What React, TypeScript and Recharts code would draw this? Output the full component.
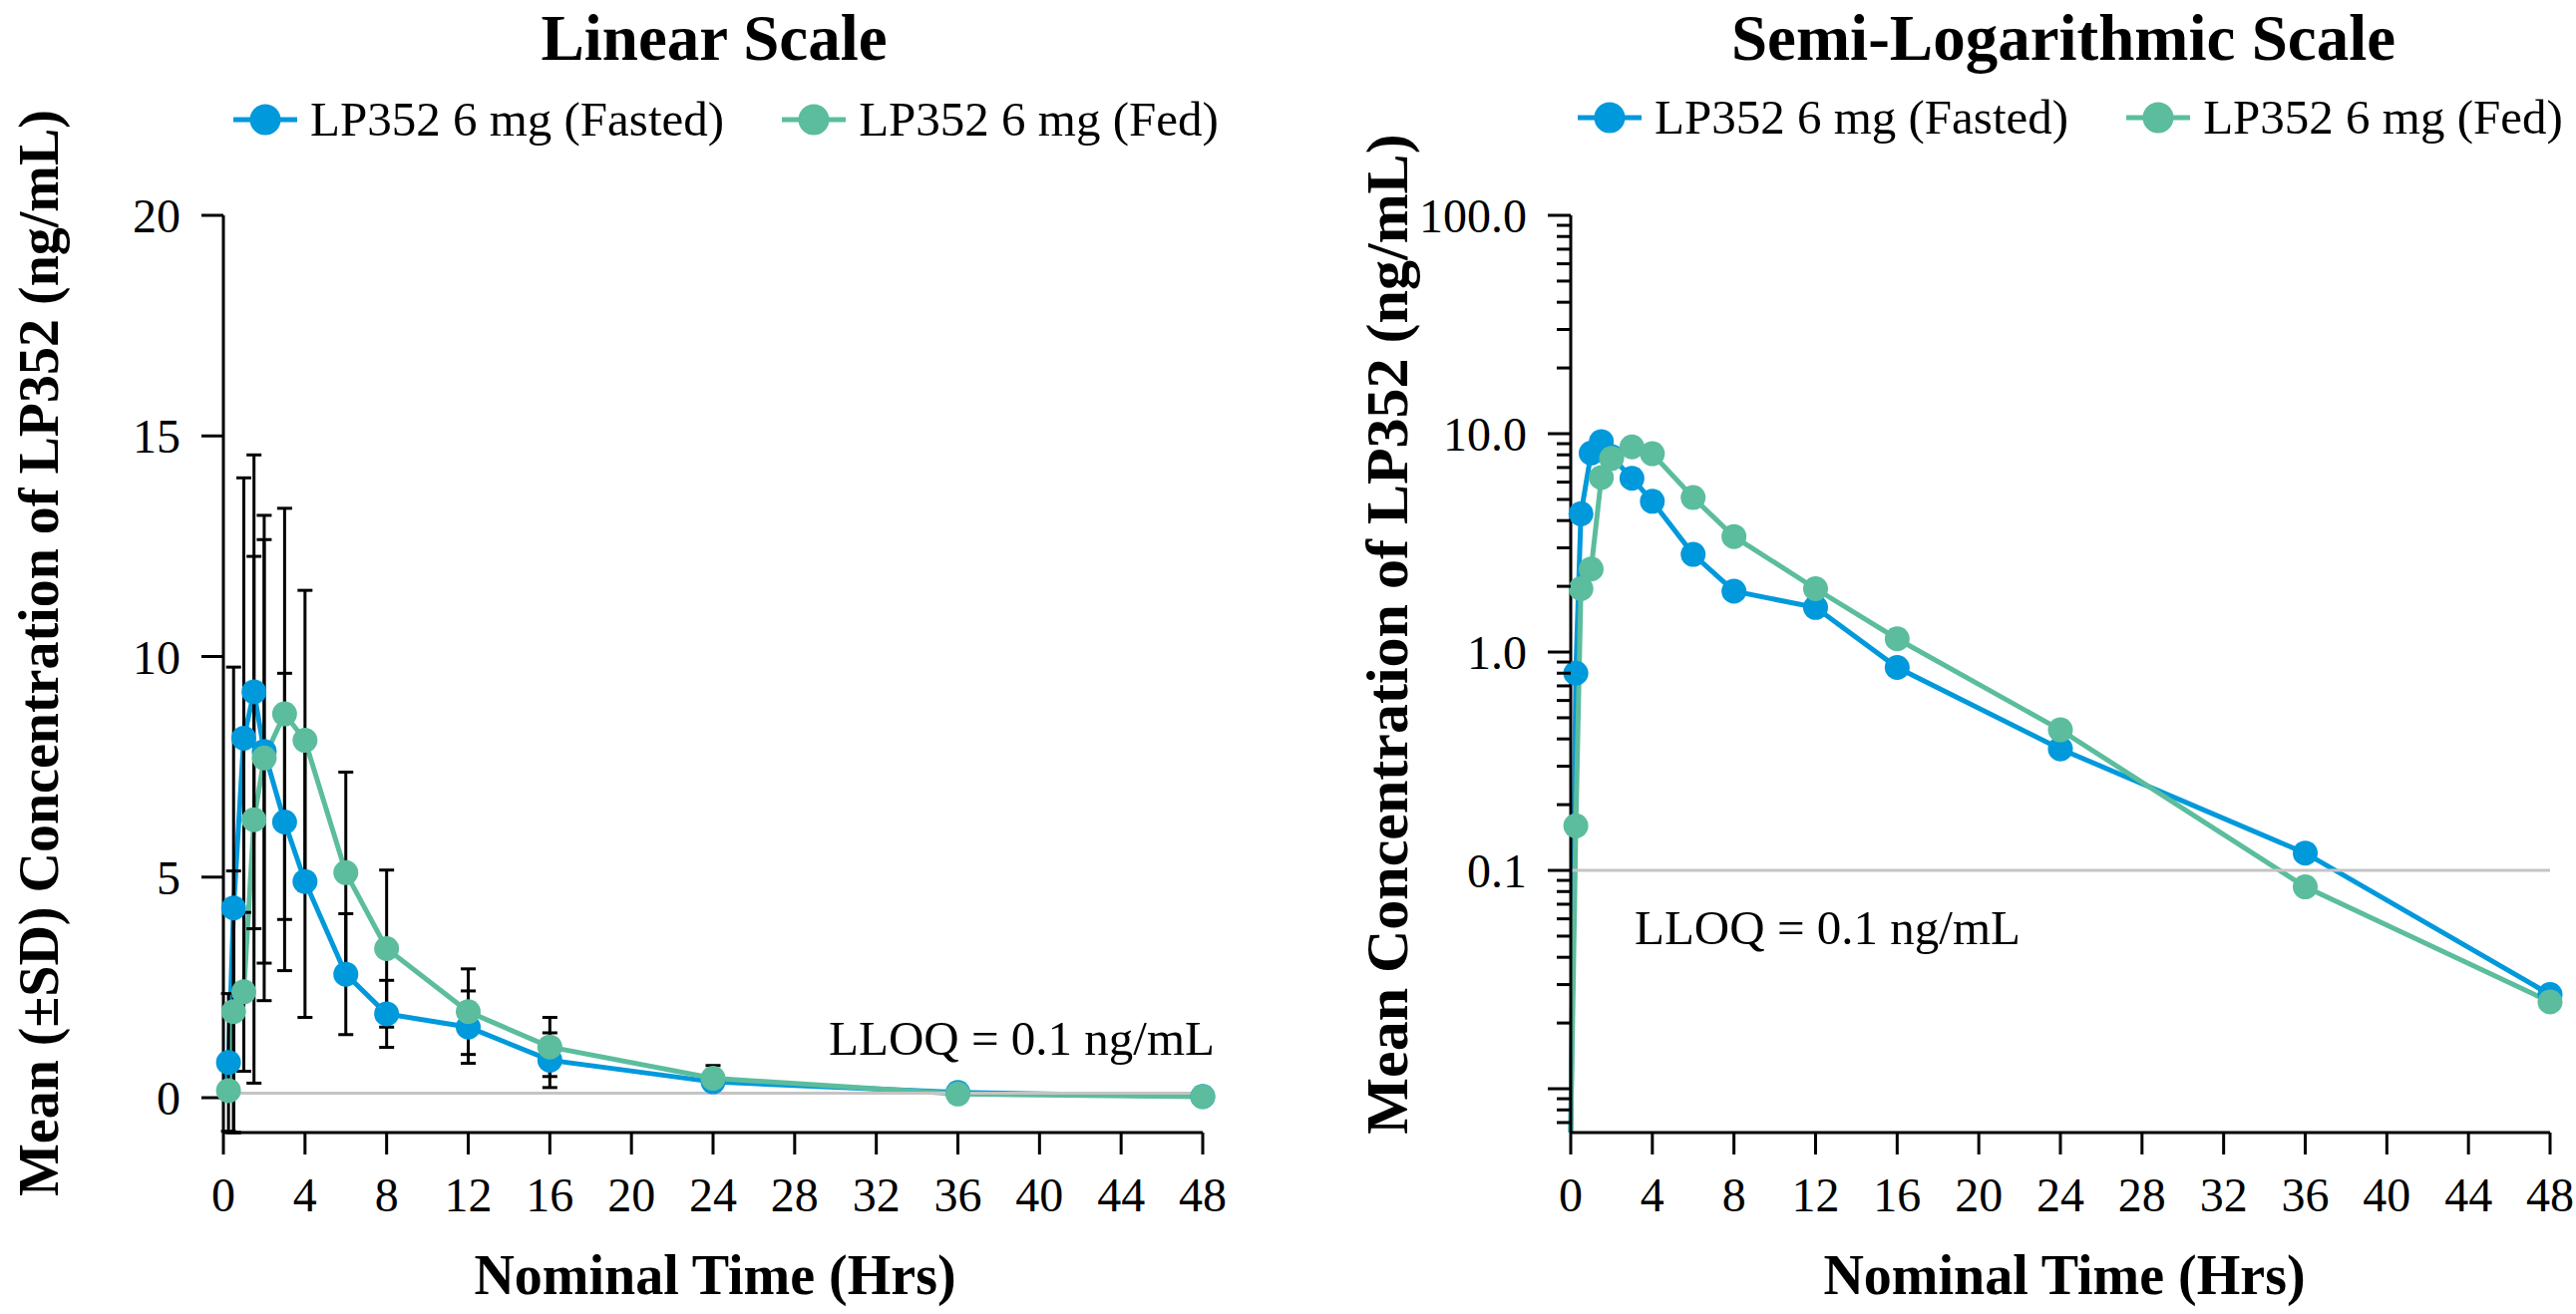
import { LineChart, Line, XAxis, YAxis, ErrorBar, ReferenceLine, Legend } from "recharts"

// nominal sampling times (hrs)
const times = [0, 0.25, 0.5, 1, 1.5, 2, 3, 4, 6, 8, 12, 16, 24, 36, 48]

// mean concentration (ng/mL) and SD
const fastedMean = [0, 0.8, 4.3, 8.15, 9.2, 7.85, 6.25, 4.9, 2.8, 1.9, 1.6, 0.85, 0.36, 0.12, 0.027]
const fastedSd = [null, 1.56, 5.46, 5.9, 5.37, 4.8, 3.37, 3.08, 1.37, 0.76, 0.82, 0.62, 0.22, 0.07, 0.01]
const fedMean = [0, 0.16, 1.95, 2.4, 6.3, 7.7, 8.7, 8.1, 5.1, 3.38, 1.95, 1.15, 0.44, 0.084, 0.025]
const fedSd = [null, 0.18, 3.19, 1.8, 5.97, 5.5, 4.66, 3.4, 2.28, 1.78, 0.97, 0.67, 0.29, 0.12, 0.01]

const xTicks = [0, 4, 8, 12, 16, 20, 24, 28, 32, 36, 40, 44, 48]
const linTicks = [0, 5, 10, 15, 20]
const logMajor = [0.01, 0.1, 1, 10, 100]
const logLabels = [0.1, 1, 10, 100]
const LLOQ = 0.1

const LIN_MIN = -0.79
const LOG_MIN = 0.0063

const FONT = "'Liberation Serif', 'Times New Roman', serif"
const BLUE = "#0099db"
const GREEN = "#5bbd9d"

const errPair = (mean: number, sd: number | null) =>
  sd == null ? null : [Math.min(sd, mean - LIN_MIN), sd]

const linRows = times.map((t, i) => ({
  time: t,
  fasted: fastedMean[i],
  fed: fedMean[i],
  fastedErr: errPair(fastedMean[i], fastedSd[i]),
  fedErr: errPair(fedMean[i], fedSd[i]),
}))

// zero (BLQ) values sit on the bottom of the log axis
const logRows = times.map((t, i) => ({
  time: t,
  fasted: Math.max(fastedMean[i], LOG_MIN),
  fed: Math.max(fedMean[i], LOG_MIN),
}))

// all log ticks: majors + 2..9 minors inside the domain
const logTicks: number[] = []
for (const m of [0.001, 0.01, 0.1, 1, 10]) {
  for (let k = 1; k <= 9; k++) {
    const v = +(m * k).toPrecision(3)
    if (v >= LOG_MIN && v <= 100) logTicks.push(v)
  }
}
logTicks.push(100)

const Y_TICK = 23
const Y_MARGIN = 21

function makeDot(color: string) {
  return (props: any) => {
    const { cx, cy, payload, index } = props
    if (payload.time === 0 || cx == null || cy == null) return <g key={`dot-${index}`} />
    return <circle key={`dot-${index}`} cx={cx} cy={cy} r={12.5} fill={color} />
  }
}

function LogTick(props: any) {
  const { x, y, payload } = props
  const v = payload.value
  const axisX = x + Y_TICK + Y_MARGIN
  const major = logMajor.some((m) => Math.abs(m - v) < 1e-9)
  const len = major ? 23 : 14
  const labeled = logLabels.some((m) => Math.abs(m - v) < 1e-9)
  return (
    <g>
      <line x1={axisX - len} x2={axisX} y1={y} y2={y} stroke="#000" strokeWidth={3} />
      {labeled && (
        <text x={x} y={y} dy="0.355em" textAnchor="end" fontFamily={FONT} fontSize={48} fill="#000">
          {v.toFixed(1)}
        </text>
      )}
    </g>
  )
}

function LegendContent(props: any) {
  const items = (props.payload || []).filter((p: any) => p.type !== "none")
  return (
    <div style={{ display: "flex", alignItems: "center", fontFamily: FONT, fontSize: 49, color: "#000", whiteSpace: "nowrap" }}>
      {items.map((it: any, i: number) => (
        <div key={it.value} style={{ display: "flex", alignItems: "center", marginRight: i === items.length - 1 ? 0 : 58 }}>
          <svg width={64} height={40} style={{ display: "block", marginRight: 13 }}>
            <line x1={0} x2={64} y1={20} y2={20} stroke={it.color} strokeWidth={5} />
            <circle cx={32} cy={20} r={15.5} fill={it.color} />
          </svg>
          <span style={{ lineHeight: "40px" }}>{it.value}</span>
        </div>
      ))}
    </div>
  )
}

function XTitle({ posX, posY }: any) {
  return (
    <text x={posX} y={posY} textAnchor="middle" fontFamily={FONT} fontWeight="bold" fontSize={56} fill="#000">
      Nominal Time (Hrs)
    </text>
  )
}

function YTitle({ posX, posY, text, size }: any) {
  return (
    <text x={posX} y={posY} transform={`rotate(-90 ${posX} ${posY})`} textAnchor="middle" fontFamily={FONT} fontWeight="bold" fontSize={size} fill="#000">
      {text}
    </text>
  )
}

function LloqLabel({ posX, posY, anchor }: any) {
  return (
    <text x={posX} y={posY} textAnchor={anchor} fontFamily={FONT} fontSize={49} fill="#000">
      LLOQ = 0.1 ng/mL
    </text>
  )
}

const axisStyle = { stroke: "#000", strokeWidth: 3 }
const tickStyle = { fill: "#000", fontSize: 48, fontFamily: FONT }

function LinearPanel() {
  return (
    <LineChart width={1291} height={1318} data={linRows} margin={{ top: 216, right: 85, bottom: 0, left: 0 }}>
      <XAxis
        dataKey="time"
        type="number"
        domain={[0, 48]}
        ticks={xTicks}
        interval={0}
        height={182}
        tickSize={22}
        tickMargin={23}
        axisLine={axisStyle}
        tickLine={axisStyle}
        tick={tickStyle}
        label={<XTitle posX={717} posY={1298} />}
      />
      <YAxis
        type="number"
        domain={[LIN_MIN, 20]}
        ticks={linTicks}
        interval={0}
        width={224}
        tickSize={22}
        tickMargin={21}
        axisLine={axisStyle}
        tickLine={axisStyle}
        tick={tickStyle}
        label={<YTitle posX={58} posY={655} size={56} text="Mean (±SD) Concentration of LP352 (ng/mL)" />}
      />
      <Legend
        layout="horizontal"
        verticalAlign="middle"
        align="center"
        content={LegendContent}
        wrapperStyle={{ left: 234, top: 100, width: 1100, height: 40 }}
      />
      <Line name="LP352 6 mg (Fasted)" dataKey="fasted" type="linear" stroke={BLUE} strokeWidth={5} dot={makeDot(BLUE)} activeDot={false} isAnimationActive={false} />
      <Line name="LP352 6 mg (Fed)" dataKey="fed" type="linear" stroke={GREEN} strokeWidth={5} dot={makeDot(GREEN)} activeDot={false} isAnimationActive={false} />
      <Line dataKey="fasted" stroke="none" dot={false} activeDot={false} legendType="none" isAnimationActive={false}>
        <ErrorBar dataKey="fastedErr" direction="y" width={7.5} strokeWidth={3} stroke="#000" />
      </Line>
      <Line dataKey="fed" stroke="none" dot={false} activeDot={false} legendType="none" isAnimationActive={false}>
        <ErrorBar dataKey="fedErr" direction="y" width={7.5} strokeWidth={3} stroke="#000" />
      </Line>
      <ReferenceLine y={LLOQ} stroke="#c4c4c4" strokeWidth={3} label={<LloqLabel posX={1218} posY={1058} anchor="end" />} />
    </LineChart>
  )
}

function LogPanel() {
  return (
    <LineChart width={1292} height={1318} data={logRows} margin={{ top: 216, right: 26, bottom: 0, left: 0 }}>
      <XAxis
        dataKey="time"
        type="number"
        domain={[0, 48]}
        ticks={xTicks}
        interval={0}
        height={182}
        tickSize={22}
        tickMargin={23}
        axisLine={axisStyle}
        tickLine={axisStyle}
        tick={tickStyle}
        label={<XTitle posX={779} posY={1298} />}
      />
      <YAxis
        type="number"
        scale="log"
        domain={[LOG_MIN, 100]}
        ticks={logTicks}
        interval={0}
        width={284}
        tickSize={Y_TICK}
        tickMargin={Y_MARGIN}
        axisLine={axisStyle}
        tickLine={false}
        tick={<LogTick />}
        label={<YTitle posX={120} posY={636} size={60} text="Mean Concentration of LP352 (ng/mL)" />}
      />
      <Legend
        layout="horizontal"
        verticalAlign="middle"
        align="center"
        content={LegendContent}
        wrapperStyle={{ left: 291, top: 98, width: 1100, height: 40 }}
      />
      <Line name="LP352 6 mg (Fasted)" dataKey="fasted" type="linear" stroke={BLUE} strokeWidth={5} dot={makeDot(BLUE)} activeDot={false} isAnimationActive={false} />
      <Line name="LP352 6 mg (Fed)" dataKey="fed" type="linear" stroke={GREEN} strokeWidth={5} dot={makeDot(GREEN)} activeDot={false} isAnimationActive={false} />
      <ReferenceLine y={LLOQ} stroke="#c4c4c4" strokeWidth={3} label={<LloqLabel posX={348} posY={947} anchor="start" />} />
    </LineChart>
  )
}

function Titles() {
  return (
    <svg width={2583} height={90} style={{ position: "absolute", left: 0, top: 0, display: "block" }}>
      <text x={716} y={60} textAnchor="middle" fontFamily={FONT} fontWeight="bold" fontSize={65} fill="#000">
        Linear Scale
      </text>
      <text x={2069} y={60} textAnchor="middle" fontFamily={FONT} fontWeight="bold" fontSize={65} fill="#000">
        Semi-Logarithmic Scale
      </text>
    </svg>
  )
}

export default function App() {
  return (
    <div style={{ position: "absolute", left: 0, top: 0, width: 2583, height: 1318, background: "#fff", overflow: "hidden" }}>
      <div style={{ position: "absolute", left: 0, top: 0 }}>
        <LinearPanel />
      </div>
      <div style={{ position: "absolute", left: 1291, top: 0 }}>
        <LogPanel />
      </div>
      <Titles />
    </div>
  )
}
